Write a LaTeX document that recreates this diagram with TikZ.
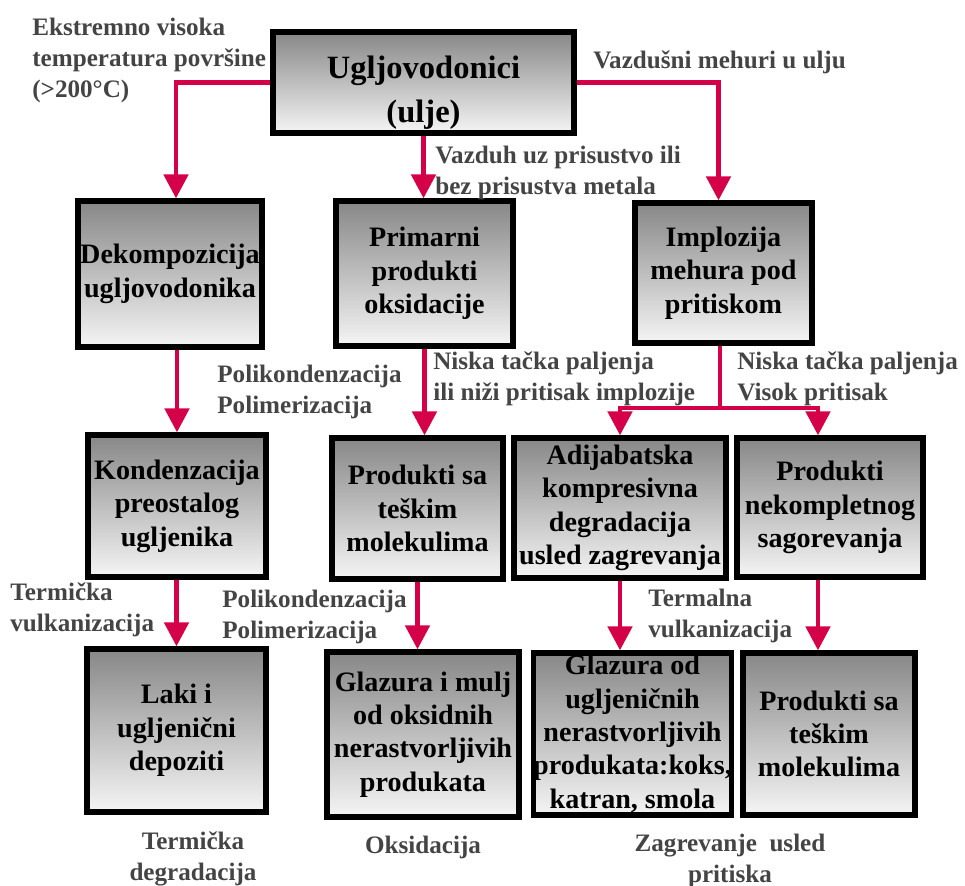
\documentclass[tikz,border=0pt]{standalone}
\usepackage{fontspec}
\setmainfont{Liberation Serif}
\usetikzlibrary{arrows.meta}
\definecolor{arrowred}{RGB}{212,0,72}
\definecolor{labelgray}{RGB}{68,68,68}

\begin{document}
\begin{tikzpicture}[x=0.02cm,y=-0.02cm,
    box/.style={draw=black, line width=3pt, top color=black!47, bottom color=black!4,
                align=center, inner sep=0pt, font=\fontsize{16}{19}\selectfont\bfseries},
    lbl/.style={text=labelgray, align=left, inner sep=0pt, anchor=base west,
                font=\fontsize{14.3}{17.5}\selectfont\bfseries},
    clbl/.style={lbl, align=center, anchor=base},
    arr/.style={-{Triangle[width=0.48cm,length=0.48cm]}, draw=arrowred, line width=2.8pt}]
    \useasboundingbox (0,0) rectangle (965,886);

    \node[box, minimum width=6.02cm, minimum height=2.02cm,
          font=\fontsize{18.5}{25}\selectfont\bfseries] (ugljo) at (423.5,82.5) {\rule{0pt}{24pt}Ugljovodonici\\(ulje)};

    \node[box, minimum width=3.68cm, minimum height=2.92cm] (dekomp) at (170,274) {Dekompozicija\\ugljovodonika};
    \node[box, minimum width=3.54cm, minimum height=2.9cm] (primarni) at (424.5,273.5) {Primarni\\produkti\\oksidacije};
    \node[box, minimum width=3.54cm, minimum height=2.8cm] (implozija) at (723.5,273) {Implozija\\mehura pod\\pritiskom};

    \node[box, minimum width=3.56cm, minimum height=2.84cm] (kondenz) at (177,506) {Kondenzacija\\preostalog\\ugljenika};
    \node[box, minimum width=3.42cm, minimum height=2.82cm] (teski) at (417.5,508.5) {Produkti sa\\teškim\\molekulima};
    \node[box, minimum width=4.24cm, minimum height=2.8cm] (adijab) at (620,508) {Adijabatska\\kompresivna\\degradacija\\usled zagrevanja};
    \node[box, minimum width=3.72cm, minimum height=2.78cm] (nekompl) at (830,507.5) {Produkti\\nekompletnog\\sagorevanja};

    \node[box, minimum width=3.58cm, minimum height=3.26cm] (laki) at (176.5,730.5) {Laki i\\ugljenični\\depoziti};
    \node[box, minimum width=3.84cm, minimum height=3.3cm] (glazmulj) at (423,734.5) {Glazura i mulj\\od oksidnih\\nerastvorljivih\\produkata};
    \node[box, minimum width=3.94cm, minimum height=3.24cm] (glazkoks) at (632.5,734) {Glazura od\\ugljeničnih\\nerastvorljivih\\produkata:koks,\\katran, smola};
    \node[box, minimum width=3.44cm, minimum height=3.24cm] (teski2) at (829,734) {Produkti sa\\teškim\\molekulima};

    \node[lbl] (ltemp) at (32,97) {Ekstremno visoka\\temperatura površine\\(>200°C)};
    \node[lbl] (lmehur) at (593,68) {Vazdušni mehuri u ulju};
    \node[lbl] (lvazduh) at (435,194) {Vazduh uz prisustvo ili\\bez prisustva metala};
    \node[lbl] (lpoli1) at (217,413) {Polikondenzacija\\Polimerizacija};
    \node[lbl] (lniska1) at (433,400) {Niska tačka paljenja\\ili niži pritisak implozije};
    \node[lbl] (lniska2) at (737,400) {Niska tačka paljenja\\Visok pritisak};
    \node[lbl] (lvulk1) at (10,631) {Termička\\vulkanizacija};
    \node[lbl] (lpoli2) at (222,638) {Polikondenzacija\\Polimerizacija};
    \node[lbl] (lvulk2) at (648,637) {Termalna\\vulkanizacija};
    \node[clbl] (ldegr) at (193,880) {Termička\\degradacija};
    \node[clbl] (loksid) at (423,853) {Oksidacija};
    \node[clbl] (lpritisak) at (730,882) {Zagrevanje\ \ usled\\pritiska};

    \coordinate (racva) at (720,408);
    \draw[arr] (ugljo.west) -| ([xshift=0.12cm]dekomp.north);
    \draw[arr] (ugljo.south) -- (ugljo.south |- primarni.north);
    \draw[arr] (ugljo.east) -| ([xshift=-0.1cm]implozija.north);
    \draw[arr] (kondenz.north |- dekomp.south) -- (kondenz.north);
    \draw[arr] (primarni.south) -- (primarni.south |- teski.north);
    \draw[arr] ([xshift=-0.07cm]implozija.south) |- (adijab.north |- racva) -- (adijab.north);
    \draw[arr] ([xshift=-0.07cm]implozija.south) |- ([xshift=-0.24cm]nekompl.north |- racva) -- ([xshift=-0.24cm]nekompl.north);
    \draw[arr] (laki.north |- kondenz.south) -- (laki.north);
    \draw[arr] (teski.south) -- (teski.south |- glazmulj.north);
    \draw[arr] (adijab.south) -- (adijab.south |- glazkoks.north);
    \draw[arr] ([xshift=-0.24cm]nekompl.south) -- ([xshift=-0.24cm]nekompl.south |- teski2.north);
\end{tikzpicture}
\end{document}
